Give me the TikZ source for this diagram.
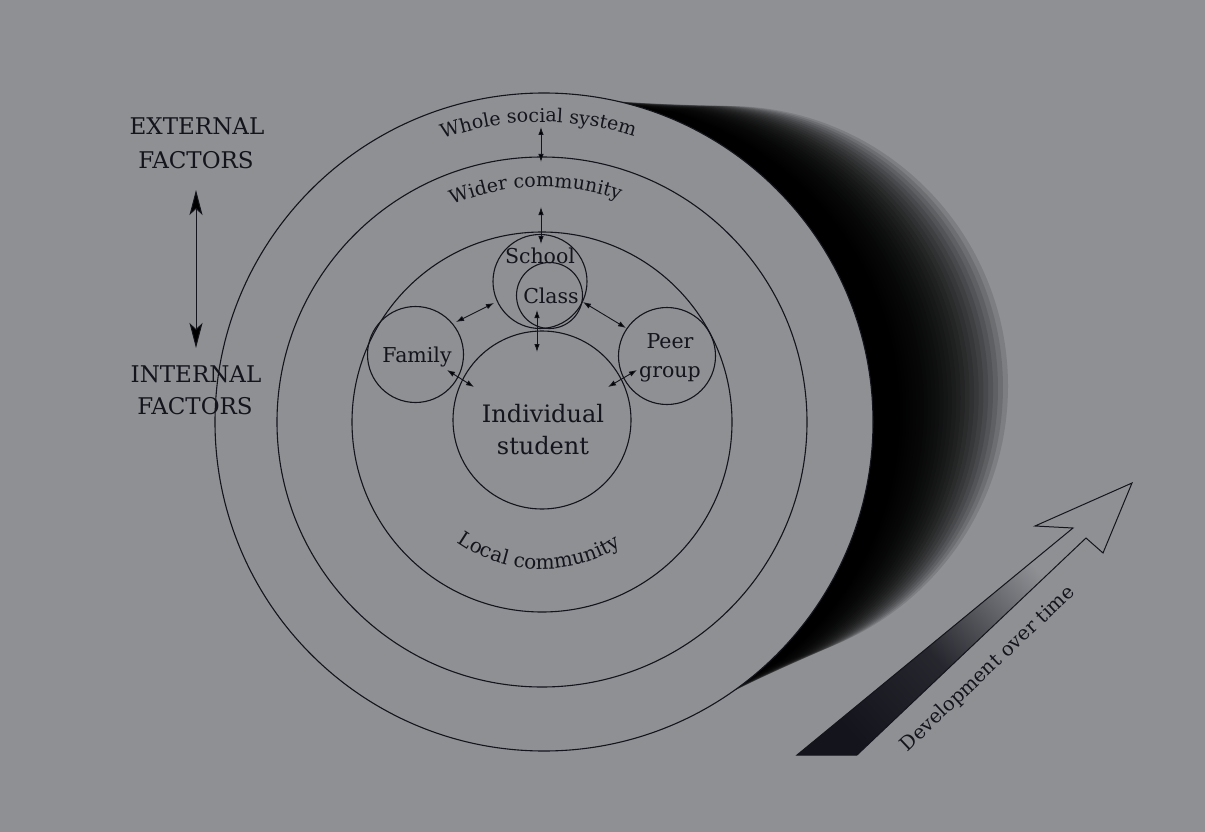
\documentclass[tikz,border=0pt]{standalone}
\usepackage{fontspec}
\setmainfont{DejaVu Serif}
\usetikzlibrary{arrows.meta,decorations.text,calc}
\definecolor{bg}{RGB}{142,144,148}
\definecolor{ink}{RGB}{20,20,28}
\pgfdeclareverticalshading{shaftshade}{100bp}{color(0bp)=(ink); color(25bp)=(ink); color(47bp)=(ink!85!bg); color(62bp)=(ink!35!bg); color(73bp)=(bg); color(100bp)=(bg)}
\newcommand{\myarcfont}{\fontsize{19}{19}\selectfont}
\newcommand{\mylocfont}{\fontsize{20}{20}\selectfont}
\begin{document}
\begin{tikzpicture}[x=1pt,y=-1pt,
  ring/.style={circle, draw=ink, line width=1.1pt, inner sep=0pt, outer sep=0pt},
  lbl/.style={text=ink, inner sep=0pt, anchor=base, font=\fontsize{20.5}{24}\selectfont},
  biglbl/.style={lbl, font=\fontsize{23}{28}\selectfont},
  stud/.style={lbl, font=\fontsize{24}{30}\selectfont},
  devlbl/.style={lbl, font=\fontsize{19.5}{24}\selectfont},
  link/.style={draw=ink, line width=0.9pt, {Latex[length=8pt,width=5.5pt]}-{Latex[length=8pt,width=5.5pt]}},
  bigarrow/.style={draw=ink, line width=1pt, {Stealth[length=25pt,width=13pt,inset=6pt]}-{Stealth[length=25pt,width=13pt,inset=6pt]}},
  arctext/.style={decorate, decoration={text along path, text align=center, text color=ink, text={|\myarcfont|#1}}},
  loctext/.style={decorate, decoration={text along path, text align=center, text color=ink, text={|\mylocfont|#1}}}
]
\fill[bg] (0,0) rectangle (1205,832);
\useasboundingbox (0,0) rectangle (1205,832);

% shadow: stacked offset discs, denser near the ring for a fading edge
\foreach \i in {1,...,40}{
  \pgfmathsetmacro{\tv}{(\i/40)^1.4}
  \pgfmathsetmacro{\rv}{329-49*(\tv^0.8)}
  \fill[black, opacity=0.12] ({544+184*\tv},{422-36*\tv}) circle[radius=\rv];
}

% rings
\node[ring, fill=bg, minimum size=658pt] (outer) at (544,422) {};
\node[ring, minimum size=530pt] (wider) at (542,422) {};
\node[ring, minimum size=380pt] (local) at (542,422) {};
\node[ring, minimum size=178pt] (indiv) at (542,420) {};
\node[ring, minimum size=94pt] (school) at (540,281.5) {};
\node[ring, minimum size=66pt] (class) at (549.5,295.5) {};
\node[ring, minimum size=96pt] (family) at (415.5,354.5) {};
\node[ring, minimum size=97pt] (peer) at (667,356) {};

% labels
\node[lbl] (schoolt) at (540,263) {School};
\node[lbl] (classt) at (551,303) {Class};
\node[lbl] (familyt) at (417,362) {Family};
\node[lbl] (peert) at (670,348) {Peer};
\node[lbl] (groupt) at (670,377) {group};
\node[stud] (indt) at (543,422) {Individual};
\node[stud] (stut) at (543,454) {student};
\node[biglbl] (ext1) at (197,135) {EXTERNAL};
\node[biglbl] (ext2) at (196,168) {FACTORS};
\node[biglbl] (int1) at (196,382) {INTERNAL};
\node[biglbl] (int2) at (195,414) {FACTORS};

% curved labels
\coordinate (cc) at (542,422);
\path[arctext={Whole social system}] ($(cc)+(140.7:300pt)$) arc[start angle=140.7, end angle=40.7, radius=300pt];
\path[arctext={Wider community}] ($(cc)+(141.6:235pt)$) arc[start angle=141.6, end angle=41.6, radius=235pt];
\path[loctext={Local community}] ($(cc)+(208.6:147pt)$) arc[start angle=208.6, end angle=328.6, radius=147pt];

% big vertical arrow
\coordinate (va) at (196,190);
\coordinate (vb) at (196,348);
\draw[bigarrow] (va) -- (vb);

% small arrows
\coordinate (a1s) at (541,127); \coordinate (a1e) at (541,162);
\coordinate (a2s) at (541,207); \coordinate (a2e) at (541,244);
\coordinate (a3s) at (537,310); \coordinate (a3e) at (537,352);
\coordinate (a4s) at (456,322); \coordinate (a4e) at (494,303);
\coordinate (a5s) at (583,302); \coordinate (a5e) at (626,328);
\coordinate (a6s) at (447,370); \coordinate (a6e) at (474,387);
\coordinate (a7s) at (637,370); \coordinate (a7e) at (608,387);
\foreach \k in {1,...,7}{ \draw[link] (a\k s) -- (a\k e); }

% development arrow
\coordinate (s1) at (797,755);
\coordinate (s2) at (1073,528);
\coordinate (s3) at (1035,526);
\coordinate (tip) at (1132,483);
\coordinate (s4) at (1103,553);
\coordinate (s5) at (1086,538);
\coordinate (s6) at (857,755);
\shade[shading=shaftshade, shading angle=-48.5] (s1) -- (s2) -- (s5) -- (s6) -- cycle;
\draw[ink, line width=1pt, line join=miter] (s1) -- (s2) -- (s3) -- (tip) -- (s4) -- (s5) -- (s6) -- cycle;
\node[devlbl, anchor=center, rotate=43.3] (dev) at (988,669) {Development over time};
\end{tikzpicture}
\end{document}
